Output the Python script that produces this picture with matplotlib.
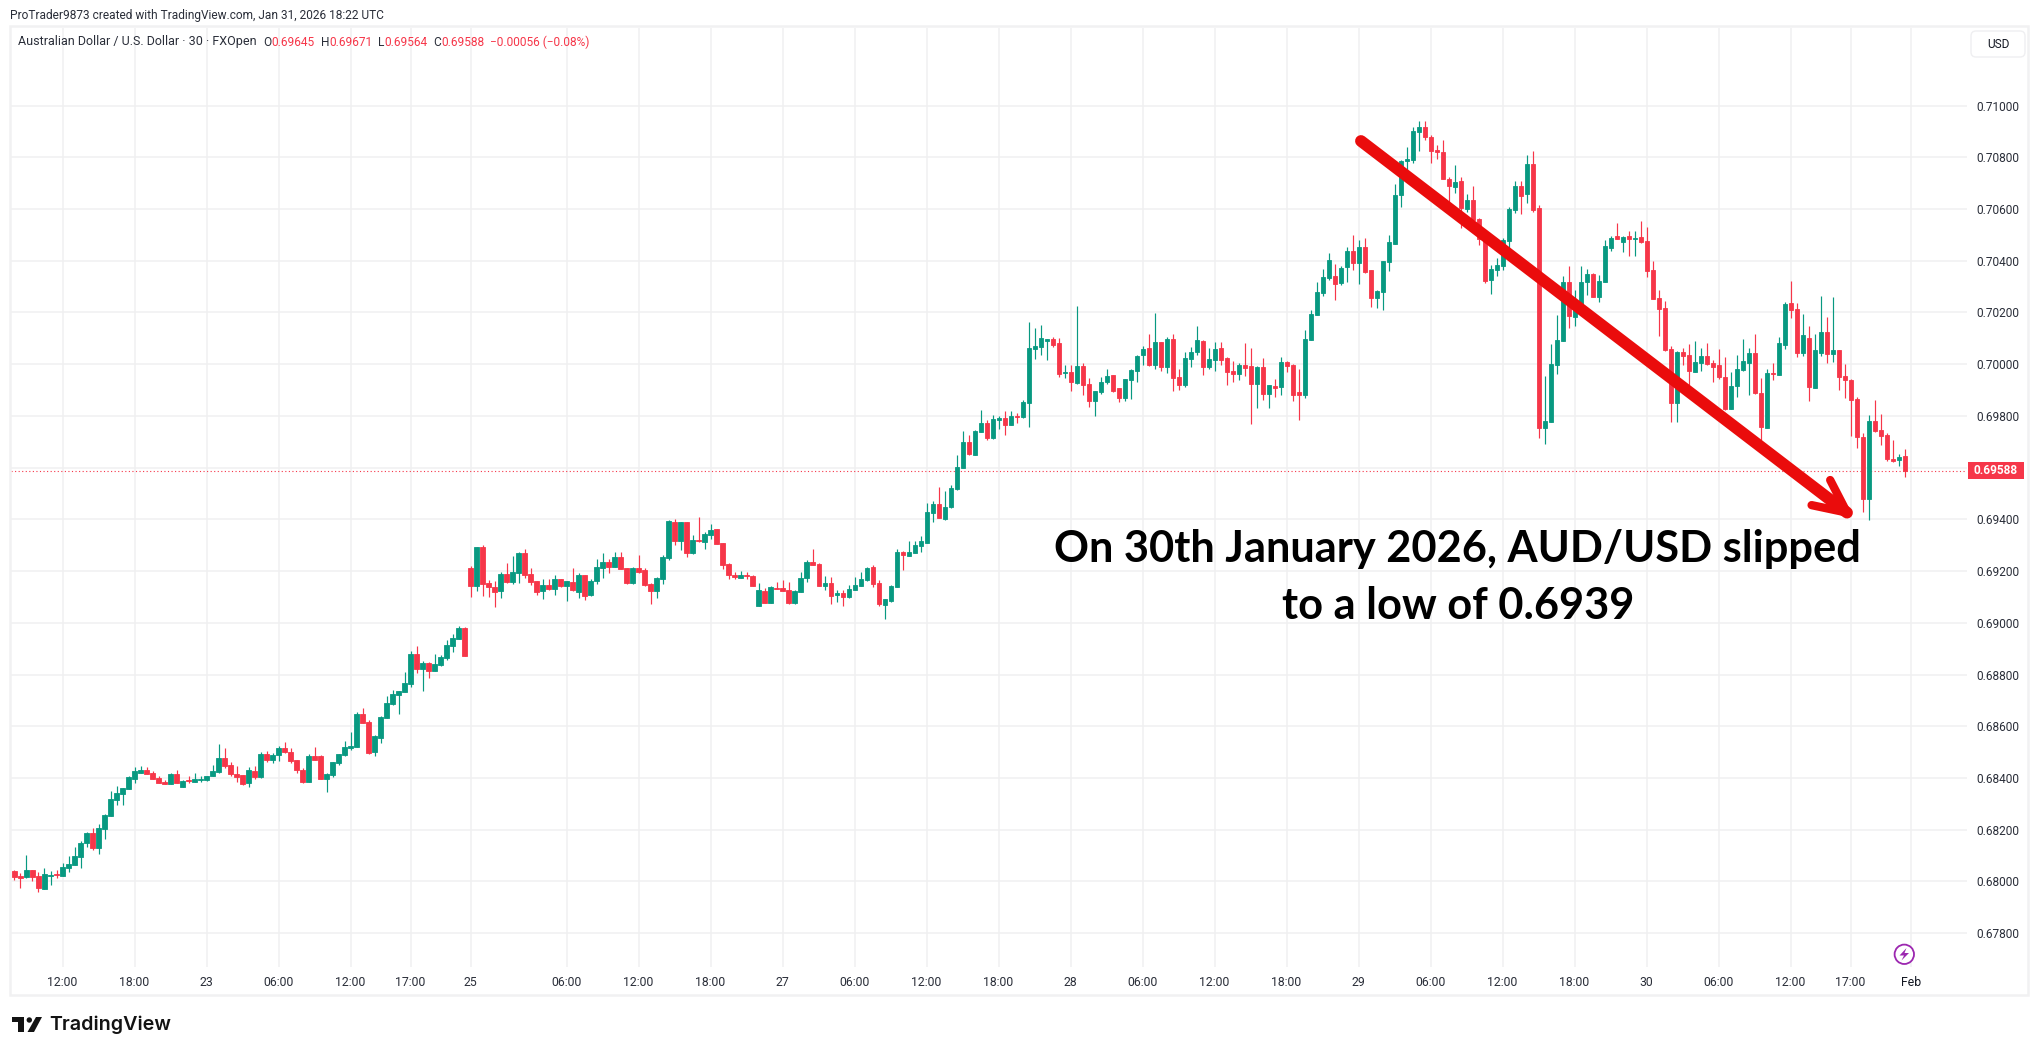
import numpy as np
import matplotlib
matplotlib.use('Agg')
import matplotlib.pyplot as plt
from matplotlib.patches import Rectangle, Circle, Polygon, FancyBboxPatch

# AUD/USD 30 min candles, prices in 1/100000
opens = [68039,68021,68018,68043,68019,67972,68022,68028,68022,68053,
68065,68095,68150,68186,68130,68204,68253,68316,68339,68359,
68397,68421,68430,68418,68399,68384,68378,68414,68366,68391,
68386,68392,68392,68409,68424,68476,68449,68414,68410,68382,
68426,68405,68491,68470,68488,68515,68499,68468,68430,68386,
68484,68484,68397,68413,68459,68489,68517,68521,68646,68615,
68502,68556,68633,68686,68721,68732,68764,68879,68822,68844,
68814,68836,68864,68910,68938,68981,69213,69143,69294,69155,
69139,69124,69190,69159,69194,69271,69190,69163,69124,69147,
69132,69170,69143,69159,69120,69186,69108,69163,69213,69236,
69217,69255,69213,69155,69213,69205,69151,69124,69170,69252,
69391,69317,69391,69271,69321,69313,69341,69364,69310,69228,
69186,69174,69186,69182,69066,69124,69077,69135,69135,69128,
69077,69120,69174,69236,69228,69143,69155,69108,69116,69101,
69128,69143,69166,69217,69155,69070,69085,69139,69275,69259,
69271,69298,69310,69426,69461,69403,69449,69518,69599,69699,
69649,69737,69772,69714,69783,69791,69764,69800,69795,69848,
70058,70065,70089,70097,70081,69965,69968,69926,69992,69922,
69856,69891,69930,69957,69906,69871,69937,69972,70034,70062,
69996,70085,69988,70097,69949,69918,70019,70046,70089,69988,
70015,70062,70023,69972,69961,69996,69992,69922,69988,69883,
69914,69910,70007,69996,69891,69879,70093,70190,70275,70333,
70341,70314,70375,70437,70391,70453,70364,70255,70279,70395,
70466,70655,70787,70791,70899,70918,70880,70829,70822,70717,
70686,70710,70601,70636,70562,70488,70326,70365,70381,70477,
70597,70690,70659,70775,70605,69754,69777,69997,70090,70319,
70183,70210,70319,70350,70261,70319,70450,70497,70473,70497,
70486,70493,70477,70365,70257,70218,70059,69850,70048,70036,
69968,70003,70033,70003,69995,69952,69828,69914,69979,70006,
70045,69890,69755,69964,69960,70076,70235,70212,70045,70103,
69906,70045,70126,70041,70053,69956,69937,69867,69720,69480,
69782,69747,69728,69635,69631,69645]
highs = [68046,68031,68101,68043,68035,68050,68039,68046,68070,68097,
68133,68155,68190,68205,68221,68259,68348,68369,68360,68406,
68442,68445,68442,68426,68406,68391,68419,68430,68391,68406,
68418,68406,68406,68449,68530,68515,68461,68445,68410,68441,
68445,68499,68503,68495,68522,68538,68515,68468,68437,68491,
68519,68488,68418,68461,68491,68542,68577,68654,68670,68623,
68565,68641,68715,68739,68735,68809,68890,68910,68852,68848,
68879,68875,68933,68957,68988,68985,69221,69294,69302,69166,
69163,69197,69232,69259,69275,69286,69213,69163,69170,69170,
69186,69170,69163,69213,69194,69186,69170,69248,69271,69248,
69275,69275,69213,69217,69263,69213,69155,69178,69263,69399,
69403,69391,69391,69341,69410,69352,69383,69364,69310,69232,
69197,69201,69197,69186,69155,69135,69143,69159,69166,69159,
69128,69197,69244,69286,69232,69182,69178,69128,69128,69147,
69178,69197,69217,69225,69166,69093,69147,69286,69279,69317,
69317,69337,69464,69472,69526,69511,69533,69649,69741,69725,
69745,69821,69783,69802,69798,69818,69818,69810,69863,70163,
70139,70151,70097,70104,70100,69996,69996,70225,70003,69945,
69898,69949,69980,69957,69906,69941,69980,70034,70069,70116,
70198,70085,70104,70116,69980,70046,70065,70147,70093,70062,
70085,70085,70027,70011,70003,70081,70062,69992,70023,69918,
69941,70027,70011,70000,69980,70132,70209,70318,70368,70430,
70387,70379,70453,70499,70480,70488,70364,70286,70399,70499,
70698,70791,70841,70917,70942,70942,70888,70849,70868,70725,
70771,70725,70659,70690,70566,70488,70384,70410,70489,70609,
70710,70710,70810,70826,70617,69955,70079,70191,70342,70381,
70288,70381,70369,70353,70346,70481,70497,70547,70497,70516,
70516,70555,70531,70400,70288,70245,70071,70052,70063,70079,
70088,70061,70080,70018,70057,70026,69968,70037,70099,70064,
70115,69948,69983,70003,70107,70242,70320,70235,70196,70146,
70115,70262,70181,70258,70053,69999,69944,69875,69732,69805,
69863,69809,69732,69708,69654,69671]
lows = [68005,67975,68014,68003,67960,67972,67987,68014,68022,68036,
68065,68053,68134,68121,68107,68165,68252,68297,68297,68359,
68382,68421,68417,68397,68382,68378,68378,68382,68366,68382,
68386,68386,68390,68409,68421,68440,68409,68386,68374,68366,
68397,68401,68463,68459,68467,68498,68459,68418,68382,68386,
68471,68397,68347,68405,68449,68486,68510,68521,68614,68494,
68486,68537,68633,68682,68647,68732,68751,68806,68735,68786,
68814,68832,68856,68887,68938,68871,69101,69124,69105,69101,
69062,69097,69155,69151,69155,69174,69147,69108,69093,69128,
69108,69139,69085,69124,69097,69089,69105,69151,69174,69194,
69217,69209,69151,69151,69194,69143,69074,69097,69151,69244,
69302,69283,69255,69267,69313,69286,69325,69306,69209,69170,
69170,69174,69170,69143,69066,69077,69077,69132,69124,69074,
69074,69120,69159,69225,69143,69128,69074,69081,69066,69097,
69128,69143,69163,69139,69066,69016,69081,69139,69205,69259,
69271,69275,69310,69391,69406,69399,69445,69514,69599,69649,
69649,69737,69706,69710,69748,69725,69764,69772,69791,69759,
70019,70034,70015,70065,69949,69945,69898,69922,69879,69836,
69801,69883,69922,69891,69852,69856,69867,69933,69996,69992,
69980,69972,69964,69898,69902,69910,69988,70034,69957,69980,
69972,69996,69918,69930,69937,69953,69770,69832,69863,69832,
69875,69879,69968,69856,69786,69871,70093,70190,70263,70325,
70248,70306,70317,70364,70310,70352,70221,70217,70209,70360,
70466,70609,70750,70779,70826,70868,70779,70795,70717,70628,
70663,70528,70590,70507,70462,70315,70272,70342,70365,70451,
70586,70582,70624,70590,69715,69692,69777,69963,70090,70141,
70148,70190,70268,70261,70241,70319,70439,70485,70435,70419,
70419,70470,70338,70253,70110,70052,69777,69777,69997,69920,
69968,69975,69997,69933,69944,69821,69828,69875,69975,69879,
69886,69705,69755,69937,69960,70057,70177,70026,70030,69859,
69906,70030,70003,70010,69902,69871,69724,69674,69430,69399,
69739,69689,69627,69623,69608,69564]
closes = [68018,68014,68043,68018,67975,68028,68025,68026,68054,68066,
68097,68147,68186,68128,68205,68255,68317,68341,68360,68402,
68426,68430,68417,68397,68382,68378,68414,68382,68387,68388,
68395,68395,68406,68426,68476,68448,68417,68405,68378,68430,
68405,68491,68470,68488,68515,68502,68467,68430,68384,68484,
68471,68397,68414,68461,68491,68519,68522,68646,68614,68498,
68561,68637,68689,68723,68735,68766,68879,68822,68844,68814,
68840,68868,68914,68942,68981,68871,69143,69294,69151,69139,
69120,69190,69157,69197,69271,69186,69159,69120,69147,69132,
69170,69143,69163,69128,69186,69105,69163,69217,69236,69217,
69255,69209,69155,69213,69197,69147,69124,69174,69255,69395,
69317,69391,69271,69321,69317,69344,69360,69306,69225,69186,
69178,69186,69182,69143,69128,69077,69139,69132,69124,69077,
69124,69174,69236,69225,69143,69155,69105,69116,69101,69132,
69147,69170,69213,69151,69074,69093,69143,69275,69263,69275,
69302,69317,69430,69461,69406,69449,69522,69603,69699,69652,
69741,69772,69714,69787,69791,69764,69798,69797,69852,70062,
70069,70100,70097,70073,69961,69968,69930,69992,69918,69856,
69895,69933,69953,69898,69871,69941,69976,70030,70058,69996,
70085,69988,70097,69945,69918,70023,70046,70093,69988,70019,
70058,70015,69968,69961,69996,69984,69922,69988,69883,69918,
69906,70007,69992,69879,69879,70097,70194,70279,70337,70403,
70310,70372,70437,70391,70453,70356,70255,70283,70399,70472,
70655,70787,70795,70903,70918,70880,70826,70822,70717,70690,
70706,70605,70636,70559,70485,70322,70369,70384,70481,70601,
70690,70651,70775,70597,69754,69781,70001,70094,70319,70187,
70249,70319,70350,70261,70322,70458,70489,70485,70493,70485,
70489,70473,70361,70253,70214,70055,69850,70048,70032,69974,
70010,70033,69999,69991,69952,69828,69917,69983,70014,70045,
69890,69759,69964,69961,70080,70231,70208,70045,70111,69910,
70053,70126,70041,70053,69952,69937,69863,69720,69480,69782,
69743,69724,69635,69627,69643,69588]

time_pos = [8,20,32,44,56,66,76,92,104,116,128,140,152,164,176,188,200,212,224,236,248,260,272,284,296,306,316]
time_labels = ['12:00','18:00','23','06:00','12:00','17:00','25','06:00','12:00','18:00','27','06:00','12:00','18:00','28','06:00','12:00','18:00','29','06:00','12:00','18:00','30','06:00','12:00','17:00','Feb']
price_ticks = [0.678,0.680,0.682,0.684,0.686,0.688,0.690,0.692,0.694,0.696,0.698,0.700,0.702,0.704,0.706,0.708,0.710]
price_labels = ['0.67800','0.68000','0.68200','0.68400','0.68600','0.68800','0.69000','0.69200','0.69400','','0.69800','0.70000','0.70200','0.70400','0.70600','0.70800','0.71000']
last_price = 0.69588

# trend arrow, candle index / price
arrow_x = [224.4, 305.4]
arrow_y = [0.70863, 0.69426]
barb1_x = [302.6, 305.4]
barb1_y = [0.69552, 0.69426]
barb2_x = [299.5, 305.4]
barb2_y = [0.69455, 0.69426]

GREEN = '#089981'
RED = '#F63649'
GRID = '#F0F0F1'
TEXT = '#2a2e39'
W, H = 2039, 1055
plt.rcParams['font.family'] = 'Roboto'

o = np.array(opens) / 100000
h = np.array(highs) / 100000
l = np.array(lows) / 100000
c = np.array(closes) / 100000
x = np.arange(len(o))
colors = [GREEN if b >= a else RED for a, b in zip(o, c)]

fig = plt.figure(figsize=(W / 100, H / 100), dpi=100, facecolor='white')
left, right, top, bottom = 11, 1967, 28, 967
ax = fig.add_axes([left / W, 1 - bottom / H, (right - left) / W, (bottom - top) / H])
ax.set_xlim(-0.583, 325.4)
ax.set_ylim(0.67669, 0.71300)
for s in ax.spines.values():
    s.set_visible(False)
ax.set_axisbelow(True)
ax.grid(True, color=GRID, lw=1.1)
ax.set_xticks(time_pos)
ax.set_xticklabels(time_labels, fontsize=8.8, color=TEXT)
ax.get_xticklabels()[-1].set_color('#131722')
ax.yaxis.tick_right()
ax.set_yticks(price_ticks)
ax.set_yticklabels(price_labels, fontsize=8.6, color=TEXT)
ax.tick_params(axis='both', length=0)
ax.tick_params(axis='x', pad=6.5)
ax.tick_params(axis='y', pad=6.5)

ax.axhline(last_price, color=RED, lw=0.8, dashes=(1, 2.2), zorder=2)
ax.vlines(x, l, h, colors=colors, lw=0.85, zorder=3)
ax.bar(x, c - o, bottom=o, width=0.68, color=colors, edgecolor=colors, lw=0.6, zorder=4)

ax.plot(arrow_x, arrow_y, color='#EA0C0C', lw=8.5, solid_capstyle='round', zorder=6)
ax.plot(barb1_x, barb1_y, color='#EA0C0C', lw=6, solid_capstyle='round', zorder=6)
ax.plot(barb2_x, barb2_y, color='#EA0C0C', lw=6, solid_capstyle='round', zorder=6)

# overlay in pixels for the TradingView chrome
ov = fig.add_axes([0, 0, 1, 1], facecolor='none')
ov.set_xlim(0, W)
ov.set_ylim(H, 0)
ov.axis('off')
ov.add_patch(Rectangle((9.5, 26), 2018.5, 969, fill=False, ec='#F1F1F2', lw=1.8))
ov.text(10, 15, 'ProTrader9873 created with TradingView.com, Jan 31, 2026 18:22 UTC',
        fontsize=8.6, color=TEXT, va='center')
ov.text(18, 42, 'Australian Dollar / U.S. Dollar · 30 · FXOpen', fontsize=9.0, color=TEXT, va='center')
for px, s, col in [(263, 'O', TEXT), (271, '0.69645', RED), (320.5, 'H', TEXT), (329, '0.69671', RED),
                   (378, 'L', TEXT), (384, '0.69564', RED), (433, 'C', TEXT), (441, '0.69588', RED),
                   (490, '−0.00056 (−0.08%)', RED)]:
    ov.text(px, 42, s, fontsize=8.6, color=col, va='center')

ov.add_patch(FancyBboxPatch((1973, 33), 50, 22, boxstyle='round,pad=2,rounding_size=5', fc='white', ec='#EFEFF1', lw=1))
ov.text(1998, 44.3, 'USD', fontsize=8.6, color='#131722', ha='center', va='center')

ov.add_patch(Rectangle((1968, 462), 56, 17, fc=RED, ec='none'))
ov.text(1996, 470.5, '0.69588', fontsize=8.6, color='white', ha='center', va='center', weight='bold')

ov.add_patch(Circle((1904.3, 954.3), 9.7, fc='white', ec='#9C27B0', lw=1.3))
ov.add_patch(Polygon([(1906.5, 948), (1899.5, 955.5), (1904, 955.5), (1901.5, 960.5), (1909, 953), (1904.5, 953)], fc='#9C27B0', ec='none'))

ov.text(1457, 549, 'On 30th January 2026, AUD/USD slipped', fontsize=31.2, weight='bold', family='Lato',
        color='black', ha='center', va='center')
ov.text(1458, 606, 'to a low of 0.6939', fontsize=31.2, weight='bold', family='Lato',
        color='black', ha='center', va='center')

# TradingView logo
ov.add_patch(Polygon([(12, 1017), (24, 1017), (24, 1032), (18, 1032), (18, 1022), (12, 1022)], fc='#131313', ec='none'))
ov.add_patch(Circle((29.3, 1020), 2.7, fc='#131313', ec='none'))
ov.add_patch(Polygon([(36, 1017), (42, 1017), (34, 1032), (27.5, 1032)], fc='#131313', ec='none'))
ov.text(49, 1025, 'TradingView', fontsize=14.2, family='Inter', weight='semibold', color='#131313', va='center')

fig.savefig('out.png', dpi=100, facecolor='white')
